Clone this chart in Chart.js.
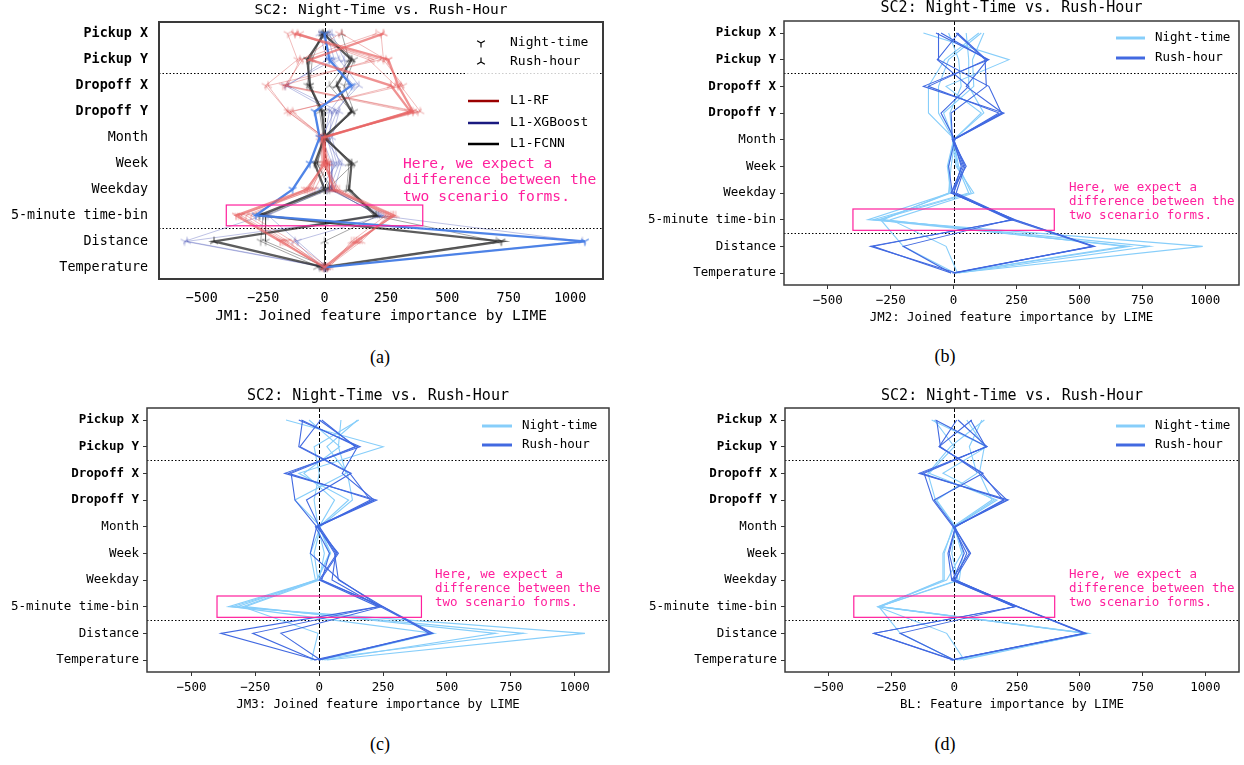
<!DOCTYPE html>
<html>
<head>
<meta charset="utf-8">
<script src="https://cdn.jsdelivr.net/npm/chart.js@4.4.0/dist/chart.umd.min.js"></script>
<style>
body { margin: 0; background: #fff; width: 1244px; height: 765px; position: relative; overflow: hidden; }
canvas { position: absolute; }
.cap { position: absolute; font-family: "Liberation Serif", "Times New Roman", serif; font-size: 18px; color: #000; transform: translate(-50%, -50%); }
</style>
</head>
<body>
<canvas id="cA" width="622" height="340" style="left:0;top:0"></canvas>
<canvas id="cB" width="622" height="340" style="left:622px;top:0"></canvas>
<canvas id="cC" width="622" height="340" style="left:0;top:385px"></canvas>
<canvas id="cD" width="622" height="340" style="left:622px;top:385px"></canvas>
<div class="cap" style="left:380px;top:357px">(a)</div>
<div class="cap" style="left:945px;top:356px">(b)</div>
<div class="cap" style="left:380px;top:744px">(c)</div>
<div class="cap" style="left:945px;top:744px">(d)</div>
<script>
const features = ["Pickup X", "Pickup Y", "Dropoff X", "Dropoff Y", "Month", "Week", "Weekday", "5-minute time-bin", "Distance", "Temperature"];
const xTicks = [-500, -250, 0, 250, 500, 750, 1000];
const sepRows = [1.5, 7.5];

// JM1: one list per model and scenario, one value per feature
const rfNight = [
    [-120, 260, 300, 360, -10, 0, -70, -360, -180, 0],
    [-150, -110, -240, -150, 0, 10, -60, -340, -160, 10],
    [60, -90, -160, 380, -20, -10, -50, -320, -150, -5],
    [230, 240, 320, -140, 0, 5, -80, -300, -130, 15],
    [-100, 200, -170, 340, -15, 15, -40, -350, -170, -10],
];
const rfRush = [
    [240, -60, 270, 350, 0, 0, 40, 280, 130, 0],
    [-130, 230, -230, -150, -10, 10, 30, 260, 150, 10],
    [70, 250, 310, 390, -20, -5, 60, 290, 120, -5],
    [210, -100, -150, 360, 0, 10, 50, 250, 110, 20],
    [-110, 180, 290, -130, -5, 20, 20, 270, 140, 5],
];
const xgbNight = [
    [0, 20, 110, -40, -20, -60, -130, -280, 1060, 0],
    [10, 40, -160, 30, 20, 50, -20, -250, -570, 0],
    [-10, 30, 120, 50, 10, 40, 10, -230, -110, 10],
];
const xgbRush = [
    [20, 60, 140, 40, -10, 30, 30, 220, 1050, 0],
    [-20, 10, -150, 60, 30, 60, 20, 230, -560, 10],
    [30, 80, 100, 20, 0, 70, 40, 240, -120, -10],
];
const fcnnNight = [
    [0, -70, -60, -10, 0, -40, 0, -265, 720, 0],
    [10, 120, 80, 120, -10, 120, 10, -250, -260, -20],
    [-10, -60, -70, 0, 5, -30, 20, -240, -240, 10],
];
const fcnnRush = [
    [-5, 110, 50, 110, 0, 110, 100, 210, -450, 0],
    [70, 100, 20, 110, 10, 100, 90, 200, 700, -30],
    [-10, -50, -60, -20, -5, -30, 30, 220, 0, 0],
];

// JM2
const jm2Night = [
    [-120, 220, -30, 110, 0, -20, -15, -340, 990, 10],
    [120, 75, 80, -40, 0, 20, 70, -300, 780, 20],
    [100, -35, -100, -100, 5, -10, -20, -280, 680, 0],
    [-20, 20, 30, -15, -5, 10, 80, -250, -30, 15],
    [50, 60, 60, 120, 0, -25, -10, -290, -200, 5],
    [110, -20, -60, -60, 0, 15, 60, -320, 700, 10],
];
const jm2Rush = [
    [-70, 140, -120, 200, 0, 40, 0, 240, 560, 0],
    [-60, -60, 140, 190, -5, 50, -10, 235, -320, -10],
    [15, 130, -100, 180, 0, 30, 0, 230, 550, 5],
    [20, -65, 60, -50, 5, -20, -5, 225, -200, -10],
    [-50, 135, 50, 195, 0, 45, 10, 240, -330, 10],
    [10, 125, 130, -10, -5, 35, -10, 245, 555, -5],
];

// JM3
const jm3Night = [
    [-130, 250, -80, 115, 0, 45, -10, -355, 1040, 30],
    [85, 75, 105, -95, 5, -35, -15, -320, 800, -35],
    [155, -20, 0, -20, -5, 20, 0, -290, 690, 20],
    [-40, 80, -60, 60, 0, 40, -10, -300, -5, -30],
    [150, 30, 110, 130, 5, -20, -5, -340, 450, 10],
];
const jm3Rush = [
    [-80, 160, -135, 225, -10, 75, 5, 250, 445, -20],
    [-65, -80, 120, 200, -5, 65, 50, 235, -385, -10],
    [0, 145, -110, -95, -10, -35, 80, 240, 440, 0],
    [5, -75, 125, -50, 0, 70, 0, 230, -260, -15],
    [-70, 150, 90, 215, -15, 40, 10, 245, -150, 5],
    [10, 140, -120, 210, -5, 60, 75, 250, 430, -5],
];

// BL
const blNight = [
    [-90, 130, -45, 160, 0, -45, -45, -300, 530, 35],
    [120, -15, -105, -75, 5, 35, 20, -300, -215, 0],
    [50, 120, 100, 150, -5, -40, -40, -295, 535, 10],
    [-80, 0, -100, 170, 0, 30, -30, -305, -30, 40],
    [110, 60, 90, -70, 5, -10, 15, -300, 525, 20],
];
const blRush = [
    [-75, 130, -140, 215, 0, 65, 0, 255, 525, -10],
    [10, -60, 110, 195, 5, -25, -10, 240, -320, 0],
    [65, 125, -120, -85, -5, 50, 5, 250, 520, -15],
    [-70, -55, 100, 210, 0, 60, -10, 245, -320, -5],
    [15, 130, -130, 200, 5, -20, 5, 240, -215, 0],
    [70, -60, 115, -80, 0, 40, -5, 255, 515, -10],
];

const mono = '"DejaVu Sans Mono", monospace';
const pink = "#ff1f9c";
const nightColor = "#87cefa";
const rushColor = "#4169e1";

const markerCache = {};
const tri = (color, dir) => {
    const key = color + dir;
    if (markerCache[key]) return markerCache[key];
    const c = document.createElement("canvas");
    c.width = c.height = 12;
    const g = c.getContext("2d");
    g.strokeStyle = color;
    g.lineWidth = 1.2;
    const r = 4.5;
    const s = dir === "down" ? 1 : -1;
    g.beginPath();
    [[0, s * r], [0.866 * r, -0.5 * s * r], [-0.866 * r, -0.5 * s * r]].forEach(([dx, dy]) => {
        g.moveTo(6, 6);
        g.lineTo(6 + dx, 6 + dy);
    });
    g.stroke();
    markerCache[key] = c;
    return c;
};

const mkSet = (vals, color, width, marker, order) => ({
    data: vals.map((v, i) => ({ x: v, y: i })),
    showLine: true,
    borderColor: color,
    backgroundColor: color,
    borderWidth: width,
    pointStyle: marker || "circle",
    pointRadius: marker ? 5 : 0,
    pointHoverRadius: 0,
    order: order,
});

const modelSets = () => {
    const models = [
        { night: rfNight, rush: rfRush, thin: "rgba(215,60,60,0.35)", thick: "rgba(232,100,100,0.7)" },
        { night: xgbNight, rush: xgbRush, thin: "rgba(70,80,180,0.35)", thick: "rgba(70,125,230,0.95)" },
        { night: fcnnNight, rush: fcnnRush, thin: "rgba(0,0,0,0.35)", thick: "rgba(30,30,30,0.72)" },
    ];
    const out = [];
    models.forEach((m) => {
        m.night.forEach((v, k) => {
            const col = k === 0 ? m.thick : m.thin;
            out.push(mkSet(v, col, k === 0 ? 2.3 : 1, tri(col, "down"), k === 0 ? 0 : 1));
        });
        m.rush.forEach((v, k) => {
            // the thick XGBoost line is only drawn once
            const thick = k === 0 && m.night !== xgbNight;
            const col = thick ? m.thick : m.thin;
            out.push(mkSet(v, col, thick ? 2.3 : 1, tri(col, "up"), thick ? 0 : 1));
        });
    });
    return out;
};

const scenarioSets = (night, rush) => [
    ...night.map((v) => mkSet(v, nightColor, 1.1, null, 1)),
    ...rush.map((v) => mkSet(v, rushColor, 1.1, null, 0)),
];

const deco = {
    id: "deco",
    beforeDatasetsDraw(chart, args, o) {
        const { ctx, chartArea: a, scales: { x, y } } = chart;
        ctx.save();
        ctx.strokeStyle = "#000";
        ctx.lineWidth = 1;
        ctx.setLineDash([1.5, 2]);
        sepRows.forEach((r) => {
            const py = Math.round(y.getPixelForValue(r)) + 0.5;
            ctx.beginPath();
            ctx.moveTo(a.left, py);
            ctx.lineTo(a.right, py);
            ctx.stroke();
        });
        ctx.setLineDash([4, 2]);
        const px = Math.round(x.getPixelForValue(0)) + 0.5;
        ctx.beginPath();
        ctx.moveTo(px, a.top);
        ctx.lineTo(px, a.bottom);
        ctx.stroke();
        ctx.restore();
    },
    afterDatasetsDraw(chart, args, o) {
        const { ctx, chartArea: a, scales: { x, y } } = chart;
        ctx.save();
        // pink box around the time-bin row
        ctx.strokeStyle = pink;
        ctx.lineWidth = 1.2;
        const x0 = x.getPixelForValue(-400), x1 = x.getPixelForValue(400);
        const y0 = y.getPixelForValue(6.6), y1 = y.getPixelForValue(7.4);
        ctx.strokeRect(x0, y0, x1 - x0, y1 - y0);
        // note
        ctx.fillStyle = pink;
        ctx.font = `${o.noteSize}px ${mono}`;
        ctx.textAlign = "left";
        ctx.textBaseline = "middle";
        ["Here, we expect a", "difference between the", "two scenario forms."].forEach((t, i) => {
            ctx.fillText(t, o.note.x, o.note.y[i]);
        });
        // legend
        ctx.fillStyle = "#000";
        ctx.font = `${o.legendSize}px ${mono}`;
        const L = o.legend;
        if (o.models) {
            ctx.fillStyle = "rgba(255,255,255,0.8)";
            ctx.fillRect(466, 28, 134, 50);
            ctx.fillRect(466, 88, 134, 66);
            ctx.fillStyle = "#000";
            ["Night-time", "Rush-hour"].forEach((t, i) => {
                ctx.drawImage(tri("#000", i === 0 ? "down" : "up"), L.mx - 6, L.my[i] - 6);
                ctx.fillText(t, L.tx, L.my[i]);
            });
            [["L1-RF", "#9b0000"], ["L1-XGBoost", "#1a1a80"], ["L1-FCNN", "#000"]].forEach(([t, c], i) => {
                ctx.strokeStyle = c;
                ctx.lineWidth = 2.5;
                ctx.beginPath();
                ctx.moveTo(L.x0, L.ly[i]);
                ctx.lineTo(L.x1, L.ly[i]);
                ctx.stroke();
                ctx.fillText(t, L.tx, L.ly[i]);
            });
        } else {
            [["Night-time", nightColor], ["Rush-hour", rushColor]].forEach(([t, c], i) => {
                ctx.strokeStyle = c;
                ctx.lineWidth = 3;
                ctx.beginPath();
                ctx.moveTo(L.x0, L.y[i]);
                ctx.lineTo(L.x1, L.y[i]);
                ctx.stroke();
                ctx.fillText(t, L.tx, L.y[i]);
            });
        }
        // frame
        ctx.strokeStyle = "#3a3a3a";
        ctx.lineWidth = o.frame;
        ctx.strokeRect(a.left, a.top, a.right - a.left, a.bottom - a.top);
        // title and axis label
        const cx = (a.left + a.right) / 2;
        ctx.fillStyle = "#000";
        ctx.textAlign = "center";
        ctx.font = `${o.titleSize}px ${mono}`;
        ctx.fillText("SC2: Night-Time vs. Rush-Hour", cx, o.titleY);
        ctx.font = `${o.labelSize}px ${mono}`;
        ctx.fillText(o.xlabel, cx, o.labelY);
        ctx.restore();
    },
};

const makeChart = (p) => {
    const canvas = document.getElementById(p.id);
    const W = canvas.width, H = canvas.height;
    new Chart(canvas.getContext("2d"), {
        type: "scatter",
        data: { datasets: p.datasets },
        options: {
            responsive: false,
            animation: false,
            devicePixelRatio: 1,
            layout: { padding: { top: p.area.top, right: W - p.area.right, left: 0, bottom: 0 } },
            plugins: { legend: { display: false }, tooltip: { enabled: false }, deco: p },
            scales: {
                x: {
                    type: "linear",
                    min: -674,
                    max: 1134,
                    afterBuildTicks: (s) => { s.ticks = xTicks.map((v) => ({ value: v })); },
                    afterFit: (s) => { s.height = H - p.area.bottom; },
                    grid: { display: !p.models, drawOnChartArea: false, drawTicks: !p.models, tickLength: 4, tickColor: "#333" },
                    border: { display: false },
                    ticks: {
                        font: { family: mono, size: p.tickSize },
                        color: "#000",
                        padding: p.xPad,
                        maxRotation: 0,
                        autoSkip: false,
                        callback: (v) => (v < 0 ? "\u2212" + Math.abs(v) : String(v)),
                    },
                },
                y: {
                    type: "linear",
                    min: -0.45,
                    max: 9.45,
                    reverse: true,
                    afterBuildTicks: (s) => { s.ticks = features.map((f, i) => ({ value: i })); },
                    afterFit: (s) => { s.width = p.area.left; },
                    grid: { display: !p.models, drawOnChartArea: false, drawTicks: !p.models, tickLength: 4, tickColor: "#333" },
                    border: { display: false },
                    ticks: {
                        font: (c) => ({ family: mono, size: p.tickSize, weight: c.index < 4 ? "bold" : "normal" }),
                        color: "#000",
                        padding: p.yPad,
                        autoSkip: false,
                        callback: (v) => features[Math.round(v)],
                    },
                },
            },
        },
        plugins: [deco],
    });
};

const small = { tickSize: 12.5, titleSize: 15, labelSize: 12.4, legendSize: 12.5, noteSize: 12.5, xPad: 4, yPad: 4, frame: 1.5 };

makeChart({
    id: "cA", models: true, datasets: modelSets(),
    area: { left: 159, top: 22, right: 603, bottom: 279 },
    tickSize: 13.4, titleSize: 14.5, labelSize: 14.5, legendSize: 13, noteSize: 14.6, xPad: 11, yPad: 11, frame: 2,
    titleY: 10, labelY: 316, xlabel: "JM1: Joined feature importance by LIME",
    note: { x: 403, y: [164, 180, 197] },
    legend: { mx: 481, my: [43, 62], x0: 468, x1: 499, ly: [101, 123, 144], tx: 510 },
});
makeChart({
    id: "cB", ...small, datasets: scenarioSets(jm2Night, jm2Rush),
    area: { left: 162, top: 21, right: 617, bottom: 285 },
    titleY: 8, labelY: 318, xlabel: "JM2: Joined feature importance by LIME",
    note: { x: 447, y: [188, 202, 216] },
    legend: { x0: 494, x1: 523, tx: 533, y: [38, 58] },
});
makeChart({
    id: "cC", ...small, datasets: scenarioSets(jm3Night, jm3Rush),
    area: { left: 147, top: 23, right: 609, bottom: 287 },
    titleY: 11, labelY: 320, xlabel: "JM3: Joined feature importance by LIME",
    note: { x: 435, y: [190, 204, 218] },
    legend: { x0: 482, x1: 512, tx: 522, y: [41, 60] },
});
makeChart({
    id: "cD", ...small, datasets: scenarioSets(blNight, blRush),
    area: { left: 163, top: 23, right: 617, bottom: 287 },
    titleY: 11, labelY: 320, xlabel: "BL: Feature importance by LIME",
    note: { x: 447, y: [190, 204, 218] },
    legend: { x0: 494, x1: 523, tx: 533, y: [41, 60] },
});
</script>
</body>
</html>
